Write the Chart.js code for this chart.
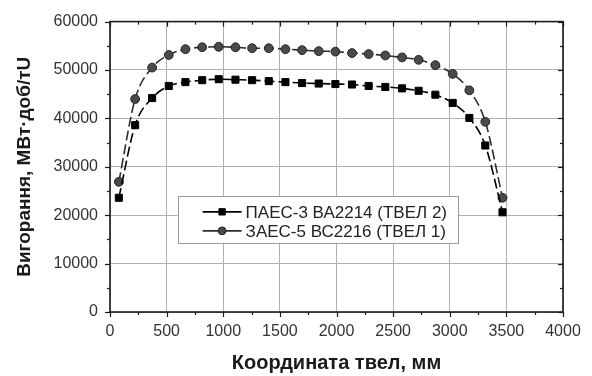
<!DOCTYPE html>
<html>
<head>
<meta charset="utf-8">
<script src="https://cdn.jsdelivr.net/npm/chart.js@4/dist/chart.umd.min.js"></script>
<style>
  html, body { margin: 0; padding: 0; background: #fff; }
  canvas { display: block; }
</style>
</head>
<body>
<canvas id="c" width="592" height="376"></canvas>
<script>
// Axial coordinate along the fuel rod, mm
const coordMm = [78, 222, 372, 519, 666, 814, 960, 1108, 1255, 1402, 1549, 1696,
                 1843, 1990, 2137, 2284, 2431, 2579, 2725, 2873, 3026, 3173, 3314, 3466];

// Burnup, MW·day/tU
const burnupPaes3 = [23600, 38600, 44200, 46700, 47500, 47900, 48100, 48000, 47900, 47700, 47500, 47300,
                     47200, 47100, 47000, 46700, 46500, 46200, 45700, 44900, 43200, 40100, 34400, 20600];
const burnupZaes5 = [26900, 44000, 50500, 53100, 54300, 54700, 54800, 54700, 54500, 54500, 54300, 54100,
                     53900, 53800, 53500, 53300, 53000, 52600, 52100, 51000, 49200, 45800, 39300, 23600];

const seriesLabels = ['ПАЕС-3 ВА2214 (ТВЕЛ 2)', 'ЗАЕС-5 ВС2216 (ТВЕЛ 1)'];

// Axis ranges and tick spacing
const xRange = [0, 4000];
const xMajor = 500, xMinor = 250;
const yRange = [0, 60000];
const yMajor = 10000, yMinor = 5000;

const xTitle = 'Координата твел, мм';
const yTitle = 'Вигорання, МВт·доб/тU';

const pts = (ys) => coordMm.map((x, i) => ({ x, y: ys[i] }));

// Frame around the plot plus outward (bottom/left) and inward (top/right) tick marks
const frameTicks = {
  id: 'frameTicks',
  afterDatasetsDraw(chart) {
    const { ctx, chartArea: a, scales: { x, y } } = chart;
    ctx.save();
    ctx.strokeStyle = '#1a1a1a';
    ctx.lineWidth = 1.2;
    const seg = (x1, y1, x2, y2) => { ctx.beginPath(); ctx.moveTo(x1, y1); ctx.lineTo(x2, y2); ctx.stroke(); };
    for (let v = xRange[0]; v <= xRange[1]; v += xMinor) {
      const px = Math.round(x.getPixelForValue(v)) + 0.5;
      const len = v % xMajor === 0 ? 5 : 3;
      seg(px, a.bottom, px, a.bottom + len);
      seg(px, a.top, px, a.top + len);
    }
    for (let v = yRange[0]; v <= yRange[1]; v += yMinor) {
      const py = Math.round(y.getPixelForValue(v)) + 0.5;
      const len = v % yMajor === 0 ? 5 : 3;
      seg(a.left, py, a.left - len, py);
      seg(a.right, py, a.right - len, py);
    }
    ctx.lineWidth = 1.6;
    ctx.strokeRect(a.left, a.top, a.right - a.left, a.bottom - a.top);
    ctx.restore();
  }
};

// Boxed legend placed inside the plot area
const innerLegend = {
  id: 'innerLegend',
  afterDatasetsDraw(chart) {
    const { ctx, scales: { x, y } } = chart;
    const left = x.getPixelForValue(597), right = x.getPixelForValue(3070);
    const top = y.getPixelForValue(24000), bottom = y.getPixelForValue(14300);
    ctx.save();
    ctx.fillStyle = '#fff';
    ctx.fillRect(left, top, right - left, bottom - top);
    ctx.strokeStyle = '#9a9a9a';
    ctx.lineWidth = 1;
    ctx.strokeRect(Math.round(left) + 0.5, Math.round(top) + 0.5, Math.round(right - left), Math.round(bottom - top));
    ctx.font = '17px "Liberation Sans", Arial, sans-serif';
    ctx.textBaseline = 'middle';
    chart.data.datasets.forEach((ds, i) => {
      const cy = top + 16 + i * 19;
      const x0 = left + 25, x1 = left + 64;
      ctx.strokeStyle = ds.borderColor;
      ctx.lineWidth = 1.6;
      ctx.setLineDash([]);
      ctx.beginPath(); ctx.moveTo(x0, cy); ctx.lineTo(x1, cy); ctx.stroke();
      ctx.fillStyle = ds.pointBackgroundColor;
      ctx.strokeStyle = ds.pointBorderColor;
      ctx.lineWidth = 1;
      Chart.helpers.drawPoint(ctx, {
        pointStyle: ds.pointStyle, radius: ds.pointRadius - 0.5, borderWidth: 1
      }, (x0 + x1) / 2, cy);
      ctx.fillStyle = '#222';
      ctx.fillText(ds.label, x1 + 4, cy + 1);
    });
    ctx.restore();
  }
};

const chart = new Chart(document.getElementById('c'), {
  type: 'line',
  data: {
    datasets: [
      {
        label: seriesLabels[0],
        data: pts(burnupPaes3),
        borderColor: '#000',
        borderWidth: 1.6,
        borderDash: [10, 4],
        pointStyle: 'rect',
        pointRadius: 5,
        pointBackgroundColor: '#000',
        pointBorderColor: '#000',
        pointBorderWidth: 1,
        cubicInterpolationMode: 'monotone',
        fill: false
      },
      {
        label: seriesLabels[1],
        data: pts(burnupZaes5),
        borderColor: '#2e2e2e',
        borderWidth: 1.6,
        borderDash: [10, 4],
        pointStyle: 'circle',
        pointRadius: 4.4,
        pointBackgroundColor: '#4a4a4a',
        pointBorderColor: '#222',
        pointBorderWidth: 1,
        cubicInterpolationMode: 'monotone',
        fill: false
      }
    ]
  },
  options: {
    responsive: false,
    animation: false,
    layout: { padding: { top: 15, right: 29, left: 0, bottom: 0 } },
    plugins: { legend: { display: false }, tooltip: { enabled: false } },
    scales: {
      x: {
        type: 'linear',
        min: xRange[0], max: xRange[1],
        afterFit: (s) => { s.height = 64; },
        grid: { color: '#b0b0b0', lineWidth: 1, drawTicks: false },
        border: { display: false },
        ticks: {
          stepSize: xMajor,
          padding: 10,
          color: '#333',
          font: { family: '"Liberation Sans", Arial, sans-serif', size: 16 },
          maxRotation: 0,
          callback: (v) => String(v)
        },
        title: {
          display: true, text: xTitle, color: '#1a1a1a',
          font: { family: '"Liberation Sans", Arial, sans-serif', size: 20, weight: 'bold', lineHeight: 1 },
          padding: { top: 0, bottom: 3 }
        }
      },
      y: {
        type: 'linear',
        min: yRange[0], max: yRange[1],
        afterFit: (s) => { s.width = 110; },
        grid: { color: '#b0b0b0', lineWidth: 1, drawTicks: false },
        border: { display: false },
        ticks: {
          stepSize: yMajor,
          padding: 12,
          color: '#333',
          font: { family: '"Liberation Sans", Arial, sans-serif', size: 16 },
          callback: (v) => String(v)
        },
        title: {
          display: true, text: yTitle, color: '#1a1a1a',
          font: { family: '"Liberation Sans", Arial, sans-serif', size: 19, weight: 'bold', lineHeight: 1 },
          padding: { top: 15, bottom: 0 }
        }
      }
    }
  },
  plugins: [frameTicks, innerLegend]
});
</script>
</body>
</html>
